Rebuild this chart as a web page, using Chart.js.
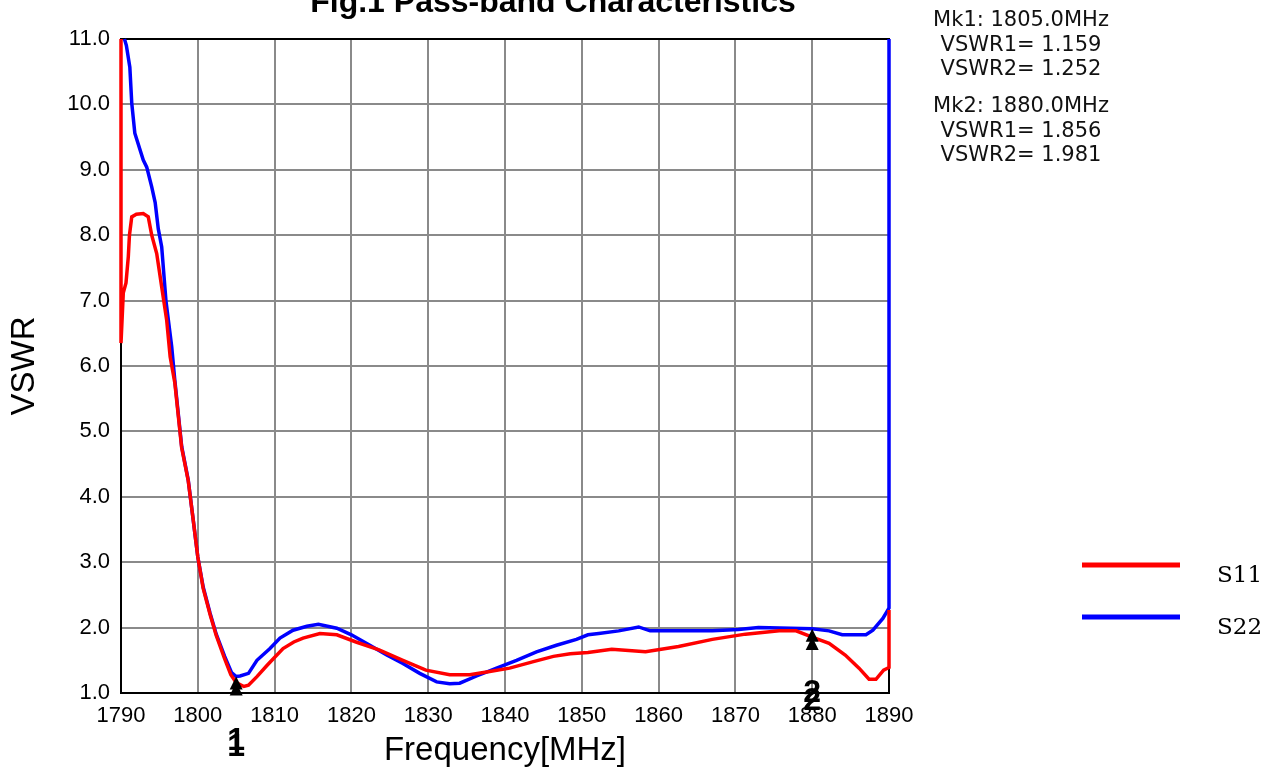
<!DOCTYPE html>
<html><head><meta charset="utf-8">
<script src="https://cdn.jsdelivr.net/npm/chart.js@4/dist/chart.umd.min.js"></script>
<style>html,body{margin:0;padding:0;background:#fff;}#wrap{width:1284px;height:774px;position:relative;}</style>
</head><body><div id="wrap"><canvas id="c" width="1284" height="774"></canvas></div>
<script>
const titleText = 'Fig.1 Pass-band Characteristics';
const xTitle = 'Frequency[MHz]';
const yTitle = 'VSWR';
const xTickLabels = ['1790','1800','1810','1820','1830','1840','1850','1860','1870','1880','1890'];
const yTickLabels = ['1.0','2.0','3.0','4.0','5.0','6.0','7.0','8.0','9.0','10.0','11.0'];
const seriesNames = ['S11','S22'];
const seriesColors = ['#ff0000','#0000ff'];

const freqS11 = [1790, 1790, 1790.3, 1790.65, 1790.95, 1791.1, 1791.4, 1792.0, 1792.9, 1793.55, 1794.0, 1794.65, 1795.3, 1795.95, 1796.4, 1797.0, 1797.45, 1797.9, 1798.75, 1799.4, 1800.0, 1800.7, 1801.6, 1802.4, 1803.5, 1804.3, 1805.0, 1806.0, 1806.6, 1807.7, 1809.0, 1809.8, 1811.1, 1812.5, 1813.7, 1815.9, 1818.1, 1820.6, 1823.6, 1826.7, 1829.7, 1832.8, 1835.4, 1838.0, 1840.6, 1843.7, 1846.3, 1848.5, 1850.8, 1853.9, 1858.3, 1862.6, 1867.0, 1871.3, 1875.7, 1877.9, 1880.0, 1882.2, 1884.3, 1886.1, 1887.4, 1888.3, 1889.3, 1890, 1890];
const vswrS11 = [11, 6.35, 7.12, 7.27, 7.67, 8.0, 8.28, 8.32, 8.33, 8.28, 8.0, 7.72, 7.21, 6.7, 6.14, 5.75, 5.25, 4.75, 4.25, 3.65, 3.08, 2.6, 2.2, 1.88, 1.52, 1.28, 1.159, 1.1, 1.12, 1.25, 1.42, 1.52, 1.68, 1.78, 1.84, 1.91, 1.89, 1.78, 1.66, 1.5, 1.35, 1.28, 1.28, 1.33, 1.38, 1.48, 1.56, 1.6, 1.62, 1.67, 1.63, 1.71, 1.82, 1.9, 1.95, 1.95, 1.856, 1.76, 1.58, 1.38, 1.21, 1.21, 1.35, 1.39, 2.27];

const freqS22 = [1790.45, 1790.7, 1791.15, 1791.4, 1791.8, 1792.9, 1793.35, 1794.0, 1794.45, 1794.85, 1795.3, 1795.85, 1796.6, 1797.0, 1797.45, 1797.9, 1798.75, 1799.4, 1800.0, 1800.7, 1801.6, 1802.4, 1803.5, 1804.4, 1805.0, 1805.5, 1806.6, 1807.7, 1809.4, 1810.7, 1812.4, 1814.2, 1815.7, 1818.1, 1820.0, 1822.4, 1824.6, 1826.7, 1828.9, 1831.1, 1832.8, 1834.1, 1836.3, 1838.9, 1841.5, 1844.1, 1846.7, 1849.3, 1850.8, 1852.2, 1854.8, 1857.4, 1858.9, 1862.6, 1867.0, 1870.4, 1873.0, 1880.0, 1882.2, 1883.9, 1887.0, 1887.9, 1889.2, 1889.9, 1890, 1890];
const vswrS22 = [11, 10.9, 10.57, 10.02, 9.56, 9.15, 9.04, 8.74, 8.5, 8.1, 7.82, 7.0, 6.3, 5.79, 5.28, 4.77, 4.26, 3.65, 3.08, 2.62, 2.22, 1.9, 1.56, 1.31, 1.252, 1.26, 1.3, 1.5, 1.68, 1.84, 1.96, 2.02, 2.05, 1.99, 1.89, 1.73, 1.58, 1.45, 1.3, 1.17, 1.14, 1.15, 1.26, 1.38, 1.5, 1.63, 1.73, 1.82, 1.89, 1.91, 1.95, 2.01, 1.95, 1.95, 1.95, 1.97, 2.0, 1.981, 1.95, 1.89, 1.89, 1.96, 2.14, 2.28, 2.3, 11];

const markerFreq = [1805, 1880];
const markerS11 = [1.159, 1.856];
const markerS22 = [1.252, 1.981];
const markerLabels = ['1', '2'];
const markerText = [
  ['Mk1: 1805.0MHz', 'VSWR1= 1.159', 'VSWR2= 1.252'],
  ['Mk2: 1880.0MHz', 'VSWR1= 1.856', 'VSWR2= 1.981']
];

const X_MIN = 1790, X_MAX = 1890, X_STEP = 10;
const Y_MIN = 1, Y_MAX = 11, Y_STEP = 1;

function pts(xs, ys) { return xs.map((x, i) => ({x: x, y: ys[i]})); }

const decor = {
  id: 'decor',
  beforeDatasetsDraw(chart) {
    const {ctx, chartArea: a} = chart;
    ctx.save();
    ctx.strokeStyle = '#000';
    ctx.lineWidth = 2;
    ctx.strokeRect(a.left, a.top, a.right - a.left, a.bottom - a.top);
    ctx.restore();
  },
  afterDatasetsDraw(chart) {
    const {ctx} = chart;
    const xs = chart.scales.x, ys = chart.scales.y;
    ctx.save();
    ctx.fillStyle = '#000';
    const tri = (px, py) => {
      ctx.beginPath();
      ctx.moveTo(px, py);
      ctx.lineTo(px - 6.5, py + 13);
      ctx.lineTo(px + 6.5, py + 13);
      ctx.closePath();
      ctx.fill();
    };
    ctx.font = 'bold 32px "Liberation Sans", Arial, sans-serif';
    ctx.textAlign = 'center';
    ctx.textBaseline = 'alphabetic';
    markerFreq.forEach((f, i) => {
      const px = xs.getPixelForValue(f);
      [markerS22[i], markerS11[i]].forEach(v => {
        const py = ys.getPixelForValue(v);
        tri(px, py);
        ctx.fillText(markerLabels[i], px, py + 73);
      });
    });
    ctx.restore();
  },
  afterDraw(chart) {
    const {ctx} = chart;
    ctx.save();
    ctx.fillStyle = '#000';
    ctx.font = 'bold 32px "Liberation Sans", Arial, sans-serif';
    ctx.textAlign = 'center';
    ctx.textBaseline = 'alphabetic';
    ctx.fillText(titleText, 553, 12);
    ctx.font = '21px "DejaVu Sans", sans-serif';
    ctx.fillStyle = '#111';
    const baseY = [[26, 51, 75], [112, 137, 161]];
    markerText.forEach((blk, b) => blk.forEach((t, j) => ctx.fillText(t, 1021, baseY[b][j])));
    const ly = [565, 617];
    chart.data.datasets.forEach((ds, i) => {
      ctx.strokeStyle = ds.borderColor;
      ctx.lineWidth = 5;
      ctx.beginPath();
      ctx.moveTo(1082, ly[i]);
      ctx.lineTo(1180, ly[i]);
      ctx.stroke();
      ctx.fillStyle = '#000';
      ctx.font = '23px "DejaVu Serif", serif';
      ctx.textAlign = 'left';
      ctx.fillText(ds.label, 1217, ly[i] + 17);
    });
    ctx.restore();
  }
};

const tickFont = {family: '"Liberation Sans", Arial, sans-serif', size: 22};

new Chart(document.getElementById('c'), {
  type: 'scatter',
  data: {
    datasets: [
      {label: seriesNames[0], data: pts(freqS11, vswrS11), showLine: true, borderColor: seriesColors[0], backgroundColor: seriesColors[0], borderWidth: 3.5, pointRadius: 0, tension: 0, clip: 4},
      {label: seriesNames[1], data: pts(freqS22, vswrS22), showLine: true, borderColor: seriesColors[1], backgroundColor: seriesColors[1], borderWidth: 3.5, pointRadius: 0, tension: 0, clip: 4}
    ]
  },
  options: {
    responsive: false,
    devicePixelRatio: 1,
    animation: false,
    layout: {padding: {top: 39, right: 395, bottom: 0, left: 0}},
    plugins: {legend: {display: false}, tooltip: {enabled: false}, title: {display: false}},
    scales: {
      x: {
        type: 'linear', min: X_MIN, max: X_MAX,
        afterFit(s) { s.height = 81; },
        ticks: {stepSize: X_STEP, padding: 10, color: '#000', font: tickFont,
          callback: (v) => xTickLabels[Math.round((v - X_MIN) / X_STEP)]},
        grid: {color: '#8a8a8a', lineWidth: 2, drawTicks: false},
        border: {display: true, color: '#000', width: 2},
        title: {display: true, text: xTitle, color: '#000', font: {family: '"Liberation Sans", Arial, sans-serif', size: 33}, padding: {top: 0, bottom: 3}}
      },
      y: {
        type: 'linear', min: Y_MIN, max: Y_MAX,
        afterFit(s) { s.width = 121; },
        ticks: {stepSize: Y_STEP, padding: 11, color: '#000', font: tickFont,
          callback: (v) => yTickLabels[Math.round((v - Y_MIN) / Y_STEP)]},
        grid: {color: '#8a8a8a', lineWidth: 2, drawTicks: false},
        border: {display: true, color: '#000', width: 2},
        title: {display: true, text: yTitle, color: '#000', font: {family: '"Liberation Sans", Arial, sans-serif', size: 33}, padding: {top: 5, bottom: 0}}
      }
    }
  },
  plugins: [decor]
});
</script>
</body></html>
